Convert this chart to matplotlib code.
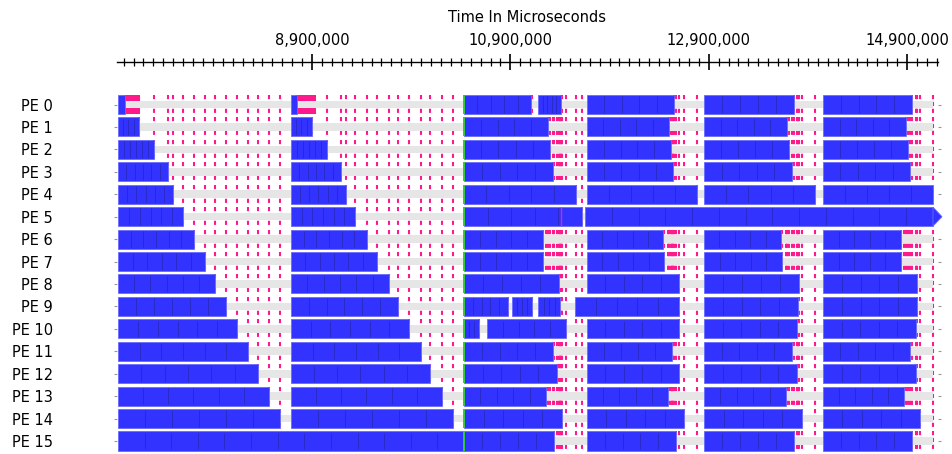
import matplotlib
matplotlib.use("Agg")
import matplotlib.pyplot as plt
from matplotlib.patches import Rectangle, Polygon
from matplotlib.ticker import FixedLocator, MultipleLocator, FuncFormatter

plt.rcParams["font.family"] = ["DejaVu Sans"]

pe_labels = [f"PE {i}" for i in range(16)]

# start time of each phase (microseconds)
phase_starts = [6_944_000, 8_688_000, 10_433_000, 11_673_000, 12_853_000, 14_053_000]

# end time of the busy block of every PE in each phase (None = no block)
p1_end = [7_014_000, 7_155_000, 7_307_000, 7_448_000, 7_498_000, 7_599_000, 7_710_000, 7_821_000,
          7_922_000, 8_033_000, 8_144_000, 8_255_000, 8_355_000, 8_466_000, 8_577_000, 10_433_000]
p2_end = [8_749_000, 8_900_000, 9_051_000, 9_192_000, 9_243_000, 9_334_000, 9_455_000, 9_555_000,
          9_676_000, 9_767_000, 9_878_000, 9_999_000, 10_090_000, 10_211_000, 10_322_000, None]
p3_end = [11_411_000, 11_280_000, 11_300_000, 11_330_000, 11_562_000, 11_623_000, 11_229_000, 11_229_000,
          11_391_000, 11_401_000, 11_461_000, 11_330_000, 11_370_000, 11_260_000, 11_421_000, 11_340_000]
p4_end = [12_550_000, 12_500_000, 12_520_000, 12_540_000, 12_782_000, 15_162_000, 12_439_000, 12_450_000,
          12_601_000, 12_601_000, 12_601_000, 12_530_000, 12_601_000, 12_490_000, 12_651_000, 12_571_000]
p5_end = [13_760_000, 13_690_000, 13_710_000, 13_740_000, 13_972_000, None, 13_629_000, 13_639_000,
          13_811_000, 13_801_000, 13_791_000, 13_740_000, 13_791_000, 13_680_000, 13_841_000, 13_760_000]
p6_end = [14_950_000, 14_890_000, 14_910_000, 14_930_000, 15_162_000, None, 14_839_000, 14_839_000,
          15_001_000, 15_001_000, 14_991_000, 14_930_000, 14_991_000, 14_870_000, 15_031_000, 14_950_000]

# PEs that start a phase later than the others: (pe, phase) -> start
late_starts = {(5, 3): 11_653_000, (9, 3): 11_552_000}
# idle holes inside a busy block: (pe, start, end)
gaps = [(0, 11_108_000, 11_179_000), (9, 10_876_000, 10_917_000),
        (9, 11_118_000, 11_179_000), (10, 10_584_000, 10_665_000)]
# solid message blocks: (pe, start, end)
pink_blocks = [(0, 7_014_000, 7_165_000), (0, 8_749_000, 8_940_000)]
busy_marks = [(5, 11_411_000)]
run_end = 15_162_000
arrow_tip = 15_253_000
entries = [6, 6, 5, 5, 5, 5]

BLUE = "#3333ff"
SEP = "#2a2ac8"
PINK = "#ff1a8c"
GREY = "#e6e6e6"
GREEN = "#33cc33"

ends = [p1_end, p2_end, p3_end, p4_end, p5_end, p6_end]
busy = {}
for i in range(16):
    blocks = []
    for k, st in enumerate(phase_starts):
        e = ends[k][i]
        if e is None:
            continue
        s = late_starts.get((i, k), st)
        blocks.append([s, e, k])
    for pe, gs, ge in gaps:
        if pe != i:
            continue
        new = []
        for s, e, k in blocks:
            if s < gs < e:
                new.append([s, gs, k])
                new.append([ge, e, k])
            else:
                new.append([s, e, k])
        blocks = new
    busy[i] = blocks

events = sorted({e for i in busy for s, e, k in busy[i]})

fig = plt.figure(figsize=(9.52, 4.54), dpi=100)
ax = fig.add_axes([117 / 952, 0, 821 / 952, 392 / 454])

H = 0.85
for i in range(16):
    blocks = busy[i]
    # idle spans
    idle = []
    for a, b in zip(blocks[:-1], blocks[1:]):
        idle.append((a[1], b[0]))
    if blocks[-1][1] < run_end:
        idle.append((blocks[-1][1], run_end + 1))
    for s, e in idle:
        ax.add_patch(Rectangle((s, i - 0.17), e - s, 0.34, facecolor=GREY,
                               edgecolor="none", zorder=3))
        evs = [t for t in events if s <= t < e]
        ax.vlines(evs, i - H / 2, i + H / 2, colors=PINK, linewidth=1.5,
                  linestyles=(0, (2, 1.3)), zorder=2)
    for s, e, k in blocks:
        ax.add_patch(Rectangle((s, i - H / 2), e - s, H, facecolor=BLUE,
                               edgecolor="#6a6aff", linewidth=0.6, zorder=4))
        dur = e - s
        n = entries[k]
        if dur > 1_500_000:
            n = round(dur / 260_000)
        n = max(1, min(n, int(dur // 45_000)))
        seps = [s + dur * j / n for j in range(1, n)]
        ax.vlines(seps, i - H / 2 + 0.06, i + H / 2 - 0.06, colors=SEP,
                  linewidth=0.7, zorder=5)
    ax.vlines([phase_starts[2]], i - H / 2, i + H / 2, colors=GREEN,
              linewidth=1.4, zorder=6)

for pe, s, e in pink_blocks:
    ax.add_patch(Rectangle((s, pe - H / 2), e - s, H, facecolor=PINK,
                           edgecolor="none", zorder=2))
for pe, t in busy_marks:
    ax.vlines([t], pe - H / 2, pe + H / 2, colors="#e020c0", linewidth=1.0, zorder=6)

# continuing block of PE 5
last = busy[5][-1]
ax.add_patch(Polygon([(last[1], 5 - H / 2), (arrow_tip, 5), (last[1], 5 + H / 2)],
                     closed=True, facecolor=BLUE, edgecolor="#6a6aff",
                     linewidth=0.6, zorder=4, clip_on=False))

ax.set_xlim(6_933_600, 15_212_600)
ax.set_ylim(15.58, -1.895)

ax.xaxis.tick_top()
ax.xaxis.set_label_position("top")
ax.xaxis.set_major_locator(FixedLocator([8_900_000, 10_900_000, 12_900_000, 14_900_000]))
ax.xaxis.set_major_formatter(FuncFormatter(lambda v, p: f"{int(v):,}"))
ax.xaxis.set_minor_locator(MultipleLocator(100_000))
ax.tick_params(axis="x", which="major", direction="inout", length=12, width=1.2,
               pad=4, labelsize=10.5)
ax.tick_params(axis="x", which="minor", direction="inout", length=5.5, width=0.9)
ax.set_xlabel("Time In Microseconds", fontsize=10.5, labelpad=8)

ax.set_yticks(range(16))
ax.set_yticklabels(pe_labels, fontsize=10.5)
ax.tick_params(axis="y", left=True, right=True, length=2, color="#999999", pad=44)

for side in ["left", "right", "bottom"]:
    ax.spines[side].set_visible(False)
ax.spines["top"].set_linewidth(1.0)

fig.savefig("out.png", dpi=100, facecolor="white")
